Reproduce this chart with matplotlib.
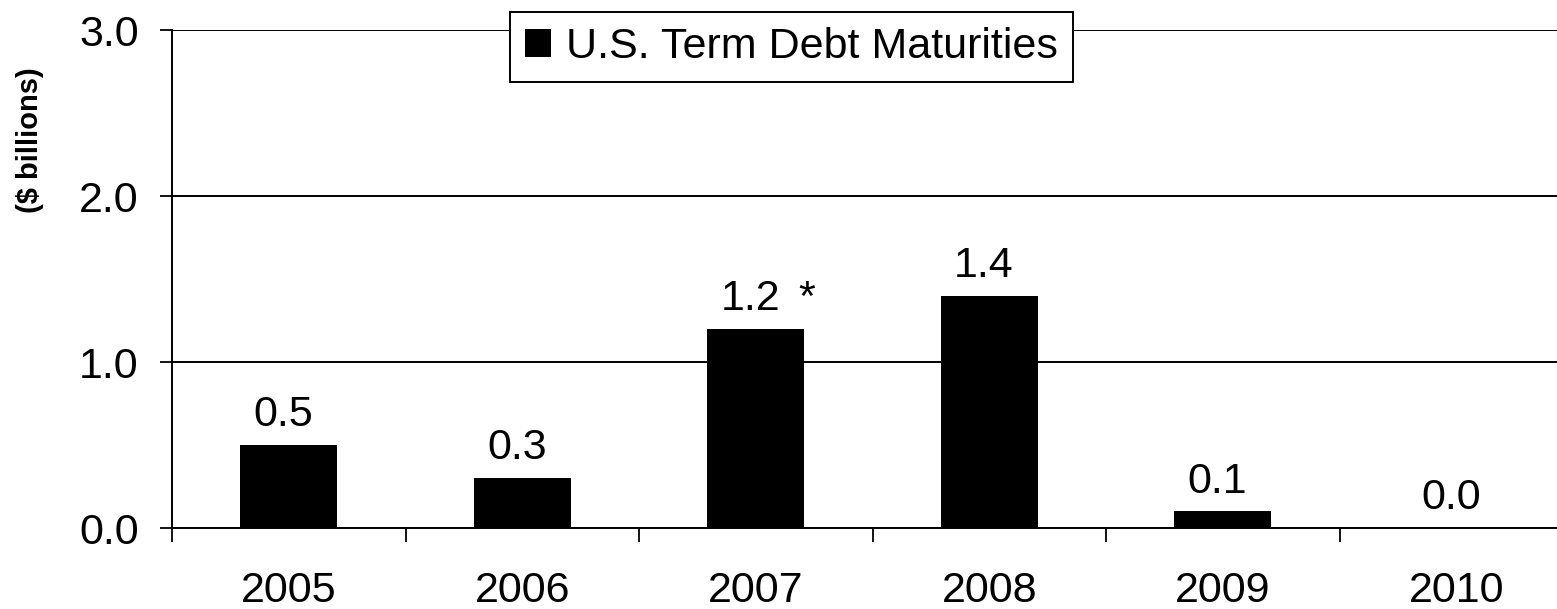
import matplotlib.pyplot as plt
from matplotlib.patches import Patch

years = ['2005', '2006', '2007', '2008', '2009', '2010']
maturities = [0.5, 0.3, 1.2, 1.4, 0.1, 0.0]
notes = ['', '', '*', '', '', '']
yticks = [0.0, 1.0, 2.0, 3.0]

plt.rcParams['font.family'] = ['Liberation Sans', 'DejaVu Sans']
FS = 31

fig = plt.figure(figsize=(15.57, 6.09), dpi=100)
ax = fig.add_axes([172 / 1557, 81 / 609, 1401 / 1557, 498 / 609])

x = list(range(len(years)))
ax.bar(x, maturities, width=0.415, color='black', zorder=3)

# value labels above the bars
for i, v in enumerate(maturities):
    ax.annotate(f'{v:.1f}', (i, v), xytext=(-4, 7), textcoords='offset points',
                ha='center', va='bottom', fontsize=FS)
    if notes[i]:
        ax.annotate(notes[i], (i, v), xytext=(37, 7), textcoords='offset points',
                    ha='center', va='bottom', fontsize=FS)

ax.set_xlim(-0.5, len(years) - 0.5)
ax.set_ylim(0, 3)

ax.set_yticks(yticks)
ax.set_yticklabels([f'{t:.1f}' for t in yticks])
ax.tick_params(axis='y', direction='out', length=9, width=1.3, pad=15, labelsize=FS)

ax.set_xticks(x)
ax.set_xticklabels(years)
ax.set_xticks([i - 0.5 for i in range(len(years) + 1)], minor=True)
ax.tick_params(axis='x', which='major', length=0, pad=31, labelsize=FS)
ax.tick_params(axis='x', which='minor', direction='out', length=10, width=1.3)

ax.yaxis.grid(True, color='black', linewidth=1.4)
ax.set_axisbelow(True)
for s in ['top', 'right']:
    ax.spines[s].set_visible(False)
for s in ['left', 'bottom']:
    ax.spines[s].set_linewidth(1.4)

fig.text(30 / 1557, 1 - 140 / 609, '($ billions)', rotation=90, ha='center', va='center',
         fontsize=21, fontweight='bold')

leg = ax.legend(handles=[Patch(facecolor='black', label='U.S. Term Debt Maturities')],
                loc='upper left', bbox_to_anchor=(510 / 1557, 1 - 12 / 609),
                bbox_transform=fig.transFigure, fontsize=FS, fancybox=False,
                edgecolor='black', framealpha=1, handlelength=0.6, handleheight=0.6,
                handletextpad=0.35, borderpad=0.35, borderaxespad=0)
leg.get_frame().set_linewidth(1.4)

fig.savefig('out.png', dpi=100)
